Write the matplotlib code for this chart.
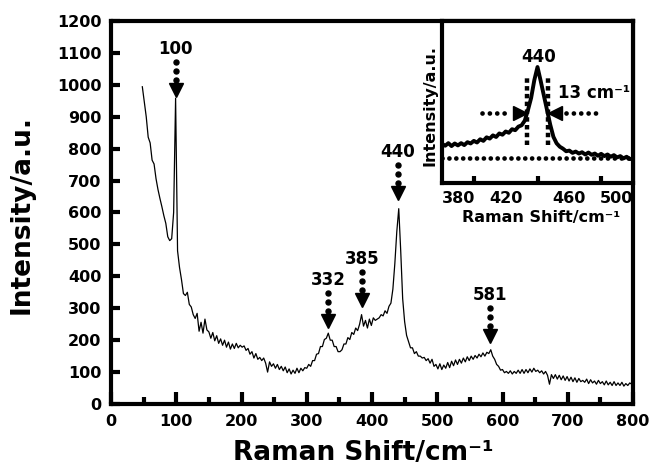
import numpy as np
import matplotlib
matplotlib.use('Agg')
import matplotlib.pyplot as plt
from matplotlib.transforms import offset_copy

# ---------------- data ----------------
shift_start = 48        # cm-1, first sample of main spectrum
shift_step = 3          # cm-1 sampling step
intensity = [
    994, 946, 900, 836, 818, 764, 752, 706, 672, 644,
    618, 590, 566, 524, 512, 518, 600, 958, 480, 428,
    390, 346, 340, 350, 312, 304, 280, 268, 284, 228,
    256, 222, 266, 232, 226, 206, 224, 198, 214, 190,
    204, 184, 200, 178, 194, 172, 188, 174, 190, 176,
    184, 178, 182, 168, 174, 156, 164, 144, 158, 140,
    146, 136, 144, 128, 100, 132, 118, 126, 112, 124,
    108, 118, 104, 116, 98, 110, 94, 106, 96, 112,
    98, 112, 104, 114, 112, 124, 118, 136, 136, 156,
    158, 180, 180, 202, 206, 222, 200, 200, 180, 180,
    164, 164, 170, 188, 188, 208, 202, 224, 218, 238,
    230, 250, 280, 244, 262, 238, 266, 246, 270, 262,
    266, 270, 280, 276, 292, 284, 306, 316, 360, 440,
    540, 612, 480, 330, 258, 215, 196, 176, 176, 158,
    164, 150, 150, 144, 146, 136, 142, 128, 140, 118,
    124, 110, 126, 108, 122, 112, 130, 114, 134, 120,
    138, 124, 140, 128, 144, 132, 148, 136, 150, 140,
    152, 144, 156, 148, 160, 150, 162, 158, 170, 150,
    140, 124, 118, 106, 108, 98, 102, 96, 104, 94,
    102, 96, 106, 96, 108, 96, 108, 98, 110, 100,
    112, 102, 106, 98, 104, 94, 102, 90, 62, 92,
    80, 92, 78, 90, 76, 88, 74, 86, 72, 84,
    70, 82, 68, 80, 70, 74, 68, 78, 64, 76,
    66, 72, 62, 74, 64, 70, 60, 72, 60, 68,
    58, 70, 58, 66, 58, 68, 56, 64, 58, 66,
    62,
]

peak_labels = ['100', '332', '385', '440', '581']
peak_x = [99, 333, 385, 440, 581]
peak_tip_y = [962, 238, 304, 639, 191]

inset_start = 380
inset_step = 2
inset_intensity = [
    24.2, 23.0, 24.6, 22.8, 24.4, 23.2, 24.6, 23.4, 25.2, 24.4,
    26.0, 25.0, 27.0, 26.0, 28.2, 27.4, 29.4, 28.4, 30.6, 29.8,
    31.8, 31.0, 33.2, 32.6, 34.8, 35.6, 38.5, 45.0, 52.5, 63.5,
    71.6, 63.0, 54.0, 45.0, 36.0, 28.5, 24.5, 22.4, 21.2, 19.6,
    20.0, 18.6, 19.4, 18.2, 19.0, 17.6, 18.8, 17.4, 18.2, 16.8,
    18.0, 16.6, 17.6, 16.2, 17.2, 15.8, 16.6, 15.2, 16.2, 14.8,
    15.0,
]
inset_baseline = 15.4
inset_peak = 440
fwhm_left, fwhm_right = 433.5, 446.5
fwhm_half = 43.2
fwhm_text = '13 cm\u207b\u00b9'

# ---------------- figure ----------------
plt.rcParams['font.family'] = ['DejaVu Sans']
plt.rcParams['font.weight'] = 'bold'

W, H = 658, 470
fig = plt.figure(figsize=(W / 100, H / 100), dpi=100)

def fx(px):
    return px / W

def fy(py):
    return 1 - py / H

ax = fig.add_axes([fx(111), fy(404), fx(633) - fx(111), fy(21) - fy(404)])

shift = shift_start + shift_step * np.arange(len(intensity))
ax.plot(shift, intensity, color='black', lw=0.9)

ax.set_xlim(0, 800)
ax.set_ylim(0, 1200)
ax.set_xticks(np.arange(0, 801, 100))
ax.set_xticks(np.arange(50, 800, 100), minor=True)
ax.set_yticks(np.arange(0, 1201, 100))
for s in ax.spines.values():
    s.set_linewidth(3.0)
ax.tick_params(axis='x', which='major', direction='in', length=8.5, width=3, pad=7,
               labelsize=11.5)
ax.tick_params(axis='x', which='minor', direction='in', length=5, width=3)
ax.tick_params(axis='y', which='major', direction='in', length=6.5, width=3, pad=7,
               labelsize=11.5)
for lab in ax.get_xticklabels() + ax.get_yticklabels():
    lab.set_fontweight('bold')

# peak markers: triangle + dotted stem + label (offsets in pixels)
for lab, x, y in zip(peak_labels, peak_x, peak_tip_y):
    tr = offset_copy(ax.transData, fig=fig, x=0, y=7, units='dots')
    ax.plot([x], [y], marker='v', ms=10, color='black', ls='none', transform=tr,
            clip_on=False)
    for dy in (17, 26, 35):
        trd = offset_copy(ax.transData, fig=fig, x=0, y=dy, units='dots')
        ax.plot([x], [y], marker='o', ms=3.6, color='black', ls='none', transform=trd,
                clip_on=False)
    trt = offset_copy(ax.transData, fig=fig, x=0, y=48, units='dots')
    ax.text(x, y, lab, transform=trt, ha='center', va='center', fontsize=12,
            fontweight='bold')

fig.text(fx(363), fy(453), 'Raman Shift/cm\u207b\u00b9', ha='center', va='center',
         fontsize=19, fontweight='bold')
fig.text(fx(22), fy(215), 'Intensity/a.u.', ha='center', va='center', rotation=90,
         fontsize=19, fontweight='bold')

# ---------------- inset ----------------
axi = fig.add_axes([fx(442), fy(183), fx(633) - fx(442), fy(21) - fy(183)])
inset_shift = inset_start + inset_step * np.arange(len(inset_intensity))
axi.plot(inset_shift, inset_intensity, color='black', lw=2.8)
axi.set_xlim(380, 500)
axi.set_ylim(0, 100)
axi.set_yticks([])
axi.set_xticks([380, 420, 460, 500])
axi.set_xticks([400, 420, 440, 460, 480], minor=True)
for s in axi.spines.values():
    s.set_linewidth(3.0)
axi.tick_params(axis='x', which='major', direction='in', length=0, pad=6, labelsize=11.5)
axi.tick_params(axis='x', which='minor', direction='in', length=5, width=3)
xl = axi.get_xticklabels()
for lab in xl:
    lab.set_fontweight('bold')
xl[0].set_ha('left')
xl[-1].set_ha('right')

# baseline dotted
axi.plot([380, 500], [inset_baseline, inset_baseline], color='black', lw=3.4,
         ls=(0, (0.01, 1.45)), dash_capstyle='round')
# FWHM vertical square-dotted lines
for xv in (fwhm_left, fwhm_right):
    axi.plot([xv, xv], [23.5, 65.5], color='black', lw=3.2, ls=(0, (1, 0.75)),
             dash_capstyle='butt')
# horizontal arrows
axi.plot([405, 422], [fwhm_half, fwhm_half], color='black', lw=3.4,
         ls=(0, (0.01, 1.55)), dash_capstyle='round')
axi.plot([fwhm_left - 4.4], [fwhm_half], marker='>', ms=10, color='black', ls='none')
axi.plot([458, 477], [fwhm_half, fwhm_half], color='black', lw=3.4,
         ls=(0, (0.01, 1.55)), dash_capstyle='round')
axi.plot([fwhm_right + 4.4], [fwhm_half], marker='<', ms=10, color='black', ls='none')

axi.text(inset_peak + 1, 77.8, str(inset_peak), ha='center', va='center', fontsize=12,
         fontweight='bold')
axi.text(453, 55.6, fwhm_text, ha='left', va='center', fontsize=12, fontweight='bold')

fig.text(fx(430), fy(106), 'Intensity/a.u.', ha='center', va='center', rotation=90,
         fontsize=11.5, fontweight='bold')
fig.text(fx(541), fy(217), 'Raman Shift/cm\u207b\u00b9', ha='center', va='center',
         fontsize=11.5, fontweight='bold')

fig.savefig('out.png', dpi=100)
